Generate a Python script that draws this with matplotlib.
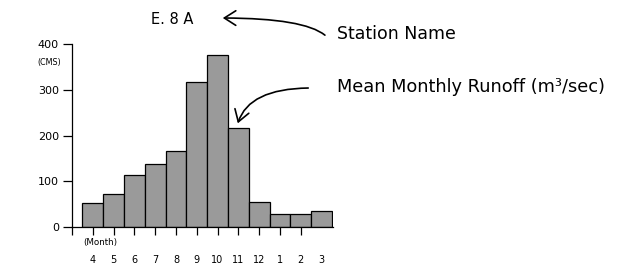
import matplotlib
matplotlib.use("Agg")
import matplotlib.pyplot as plt

# Mean monthly runoff at station E.8A (CMS), water year April -> March
MONTHS = ["4", "5", "6", "7", "8", "9", "10", "11", "12", "1", "2", "3"]
RUNOFF = [52, 72, 114, 138, 166, 317, 375, 216, 54, 29, 29, 34]
STATION = "E. 8 A"

W, H = 642, 268
fig = plt.figure(figsize=(W / 100, H / 100), dpi=100)


def fx(px):
    return px / W


def fy(py):
    return 1 - py / H


# axes placed so that the y axis sits at x=72 px, 0..400 spans y=227..44 px
ax = fig.add_axes([fx(72), fy(227), fx(333) - fx(72), fy(44) - fy(227)])
xs = list(range(len(MONTHS)))
ax.bar(xs, RUNOFF, width=1.0, color="#9a9a9a", edgecolor="black",
       linewidth=0.9, zorder=2)

ax.set_xlim(-1.0, 11.55)
ax.set_ylim(0, 400)
for side in ("top", "right"):
    ax.spines[side].set_visible(False)
for side in ("left", "bottom"):
    ax.spines[side].set_linewidth(0.9)

ax.set_yticks([0, 100, 200, 300, 400])
ax.tick_params(axis="y", direction="out", length=6.5, width=0.9, pad=3,
               labelsize=8)
ax.set_xticks(xs)
ax.set_xticklabels(MONTHS)
ax.set_xticks([-1], minor=True)
ax.tick_params(axis="x", which="both", direction="out", length=5.5,
               width=0.9, pad=14.5, labelsize=7)
ax.xaxis.get_major_ticks()[-1].tick1line.set_visible(False)

fig.text(fx(49), fy(63), "(CMS)", fontsize=5.8, ha="center", va="center")
fig.text(fx(100), fy(243), "(Month)", fontsize=6.3, ha="center", va="center")

# station name and callouts
fig.text(fx(172), fy(20), STATION, fontsize=10.5, ha="center", va="center")
fig.text(fx(337), fy(34), "Station Name", fontsize=12.5, ha="left",
         va="center")
fig.text(fx(337), fy(87), "Mean Monthly Runoff (m³/sec)", fontsize=12.8,
         ha="left", va="center")

arrow_kw = dict(arrowstyle="->,head_length=0.55,head_width=0.35",
                lw=1.2, color="black", mutation_scale=15)
ax.annotate("", xy=(220, H - 18), xycoords="figure pixels",
            xytext=(327, H - 37), textcoords="figure pixels",
            arrowprops=dict(connectionstyle="angle3,angleA=135,angleB=0",
                            **arrow_kw))
ax.annotate("", xy=(237, H - 126), xycoords="figure pixels",
            xytext=(311, H - 88), textcoords="figure pixels",
            arrowprops=dict(connectionstyle="angle3,angleA=0,angleB=75",
                            **arrow_kw))

fig.savefig("out.png", dpi=100)
